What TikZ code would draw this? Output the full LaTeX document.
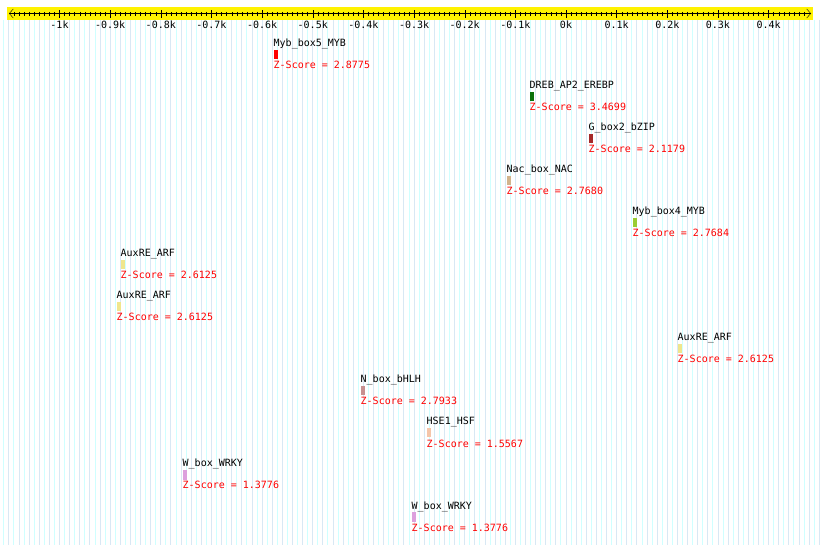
\documentclass[tikz,border=0pt]{standalone}
\usepackage{fontspec}
\setmonofont{DejaVu Sans Mono}
\usetikzlibrary{arrows.meta}
\definecolor{stripeA}{HTML}{CFFFFF}
\definecolor{stripeB}{HTML}{D8E8F4}
\definecolor{dreb}{HTML}{0A700A}
\definecolor{gbox}{HTML}{A52A2A}
\definecolor{nac}{HTML}{D2B48C}
\definecolor{mybfour}{HTML}{9ACD32}
\definecolor{auxre}{HTML}{F0E68C}
\definecolor{nbox}{HTML}{C89090}
\definecolor{hse}{HTML}{F5C6AA}
\definecolor{wbox}{HTML}{DDA0DD}
\begin{document}
\begin{tikzpicture}[x=1pt, y=-1pt, font=\ttfamily\fontsize{10}{12}\selectfont, line cap=butt,
	tfname/.style={anchor=base west, inner sep=0pt, text=black},
	zscore/.style={anchor=base west, inner sep=0pt, text=red},
	tfbar/.style={inner sep=0pt, minimum width=4pt, minimum height=9.5pt},
	ticklab/.style={anchor=base, inner sep=0pt}]
	\useasboundingbox (0,0) rectangle (820,545);
	\fill[white] (0,0) rectangle (820,545);
	% background stripes, one per 10 bp
	\foreach \k in {-111,-109,...,49} {
		\draw[stripeA, line width=0.9pt] ({566+5.065*(\k)},20) -- ({566+5.065*(\k)},545);
	}
	\foreach \k in {-110,-108,...,50} {
		\draw[stripeB, line width=0.9pt] ({566+5.065*(\k)},20) -- ({566+5.065*(\k)},545);
	}
	% ruler
	\fill[yellow] (7,7) rectangle (813,20.5);
	\coordinate (axisL) at (9,13.5);
	\coordinate (axisR) at (811,13.5);
	\draw[{Straight Barb[length=4pt,width=9pt]}-{Straight Barb[length=4pt,width=9pt]}] (axisL) -- (axisR);
	\foreach \b in {-1090,-1080,...,470} {
		\draw ({566+0.5065*(\b)},12) -- ({566+0.5065*(\b)},16);
	}
	\foreach \b/\lab [count=\i] in {-1000/-1k,-900/-0.9k,-800/-0.8k,-700/-0.7k,-600/-0.6k,-500/-0.5k,-400/-0.4k,-300/-0.3k,-200/-0.2k,-100/-0.1k,0/0k,100/0.1k,200/0.2k,300/0.3k,400/0.4k} {
		\draw ({566+0.5065*(\b)},10.5) -- ({566+0.5065*(\b)},18);
		\node[ticklab] (lab\i) at ({566+0.5065*(\b)},28.5) {\lab};
	}
	% binding sites
	\foreach \tf/\xx/\col/\z [count=\i] in {
		Myb\_box5\_MYB/274/red/2.8775,
		DREB\_AP2\_EREBP/530/dreb/3.4699,
		G\_box2\_bZIP/589/gbox/2.1179,
		Nac\_box\_NAC/507/nac/2.7680,
		Myb\_box4\_MYB/633/mybfour/2.7684,
		AuxRE\_ARF/121/auxre/2.6125,
		AuxRE\_ARF/117/auxre/2.6125,
		AuxRE\_ARF/678/auxre/2.6125,
		N\_box\_bHLH/361/nbox/2.7933,
		HSE1\_HSF/427/hse/1.5567,
		W\_box\_WRKY/183/wbox/1.3776,
		W\_box\_WRKY/412/wbox/1.3776} {
		\pgfmathsetmacro{\yy}{43.5+42*(\i-1)}
		\node[tfname] (tf\i) at (\xx-0.5,\yy+3.5) {\tf};
		\node[tfbar, fill=\col] (bar\i) at (\xx+2,\yy+11.25) {};
		\node[zscore] (z\i) at (\xx-0.5,\yy+25.5) {Z-Score = \z};
	}
\end{tikzpicture}
\end{document}
